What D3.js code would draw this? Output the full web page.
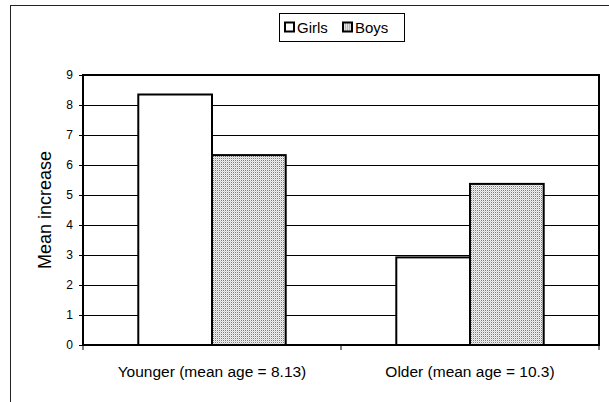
<!DOCTYPE html>
<html>
<head>
<meta charset="utf-8">
<script src="https://cdn.jsdelivr.net/npm/d3@7"></script>
<style>
body { margin: 0; background: #fff; }
text { font-family: Arial, "Liberation Sans", sans-serif; fill: #000; }
</style>
</head>
<body>
<svg id="chart" width="609" height="402"></svg>
<script>
// chart data
var groups = ["Younger (mean age = 8.13)", "Older (mean age = 10.3)"];
var series = ["Girls", "Boys"];
var girls = [8.35, 2.92];
var boys = [6.33, 5.37];
var yTicks = [0, 1, 2, 3, 4, 5, 6, 7, 8, 9];

var svg = d3.select("#chart");

// dotted fill like the excel pattern
var defs = svg.append("defs");
var pat = defs.append("pattern")
	.attr("id", "dots")
	.attr("patternUnits", "userSpaceOnUse")
	.attr("width", 2)
	.attr("height", 2);
pat.append("rect").attr("width", 2).attr("height", 2).attr("fill", "#f2f2f2");
pat.append("rect").attr("width", 1).attr("height", 1).attr("fill", "#7a7a7a");
pat.append("rect").attr("x", 1).attr("y", 1).attr("width", 1).attr("height", 1).attr("fill", "#d0d0d0");

// outer chart frame (runs off the picture)
svg.append("rect")
	.attr("x", 10.5).attr("y", 5.5)
	.attr("width", 700).attr("height", 500)
	.attr("fill", "none")
	.attr("stroke", "#222")
	.attr("stroke-width", 1);

var plotL = 83, plotR = 599, plotT = 75, plotB = 345;

var x0 = d3.scaleBand().domain(groups).range([plotL, plotR]).paddingInner(0).paddingOuter(0);
var x1 = d3.scaleBand().domain(series).range([0, x0.bandwidth()]).paddingInner(0).paddingOuter(0.75);
var y = d3.scaleLinear().domain([0, 9]).range([plotB, plotT]);

// gridlines
svg.append("g")
	.selectAll("line")
	.data(yTicks.slice(1))
	.enter().append("line")
	.attr("x1", plotL).attr("x2", plotR)
	.attr("y1", function(d) { return Math.round(y(d)) + 0.5; })
	.attr("y2", function(d) { return Math.round(y(d)) + 0.5; })
	.attr("stroke", "#000")
	.attr("stroke-width", 1);

// y axis
var yAxis = svg.append("g")
	.attr("transform", "translate(" + plotL + ",0)")
	.call(d3.axisLeft(y).tickValues(yTicks).tickSize(4).tickPadding(6));
yAxis.select(".domain").remove();
yAxis.selectAll("line").attr("stroke", "#000");
yAxis.selectAll("text").style("font-size", "12px").style("font-family", "Arial, 'Liberation Sans', sans-serif");

// x axis ticks
var xAxis = svg.append("g")
	.attr("transform", "translate(0," + plotB + ")");
xAxis.selectAll("line")
	.data([plotL, plotL + x0.bandwidth(), plotR])
	.enter().append("line")
	.attr("x1", function(d) { return d; })
	.attr("x2", function(d) { return d; })
	.attr("y1", 0).attr("y2", 5)
	.attr("stroke", "#000");
xAxis.selectAll("text")
	.data(groups)
	.enter().append("text")
	.attr("x", function(d) { return x0(d) + x0.bandwidth() / 2; })
	.attr("y", 32)
	.attr("text-anchor", "middle")
	.style("font-size", "15.5px")
	.text(function(d) { return d; });

// bars
var rows = groups.map(function(g, i) {
	return { group: g, values: [{ key: "Girls", v: girls[i] }, { key: "Boys", v: boys[i] }] };
});
var grp = svg.append("g").selectAll("g")
	.data(rows)
	.enter().append("g")
	.attr("transform", function(d) { return "translate(" + x0(d.group) + ",0)"; });
grp.selectAll("rect")
	.data(function(d) { return d.values; })
	.enter().append("rect")
	.attr("x", function(d) { return x1(d.key); })
	.attr("y", function(d) { return y(d.v); })
	.attr("width", x1.bandwidth())
	.attr("height", function(d) { return y(0) - y(d.v); })
	.attr("fill", function(d) { return d.key === "Girls" ? "#fff" : "url(#dots)"; })
	.attr("stroke", "#000")
	.attr("stroke-width", 2);

// plot area border
svg.append("rect")
	.attr("x", plotL).attr("y", plotT)
	.attr("width", plotR - plotL).attr("height", plotB - plotT)
	.attr("fill", "none")
	.attr("stroke", "#000")
	.attr("stroke-width", 2);

// y title
svg.append("text")
	.attr("transform", "translate(51," + (plotT + plotB) / 2 + ") rotate(-90)")
	.attr("text-anchor", "middle")
	.style("font-size", "18px")
	.text("Mean increase");

// legend
var lg = svg.append("g").attr("transform", "translate(279.5,13.5)");
lg.append("rect")
	.attr("width", 125).attr("height", 28)
	.attr("fill", "#fff")
	.attr("stroke", "#000");
var items = lg.selectAll(".item")
	.data(series)
	.enter().append("g")
	.attr("class", "item")
	.attr("transform", function(d, i) { return "translate(" + (i === 0 ? 5.5 : 63.5) + ",9)"; });
items.append("rect")
	.attr("width", 9).attr("height", 9)
	.attr("fill", function(d) { return d === "Girls" ? "#fff" : "url(#dots)"; })
	.attr("stroke", "#000")
	.attr("stroke-width", 2);
items.append("text")
	.attr("x", 12)
	.attr("y", 10)
	.style("font-size", "15px")
	.text(function(d) { return d; });
</script>
</body>
</html>
